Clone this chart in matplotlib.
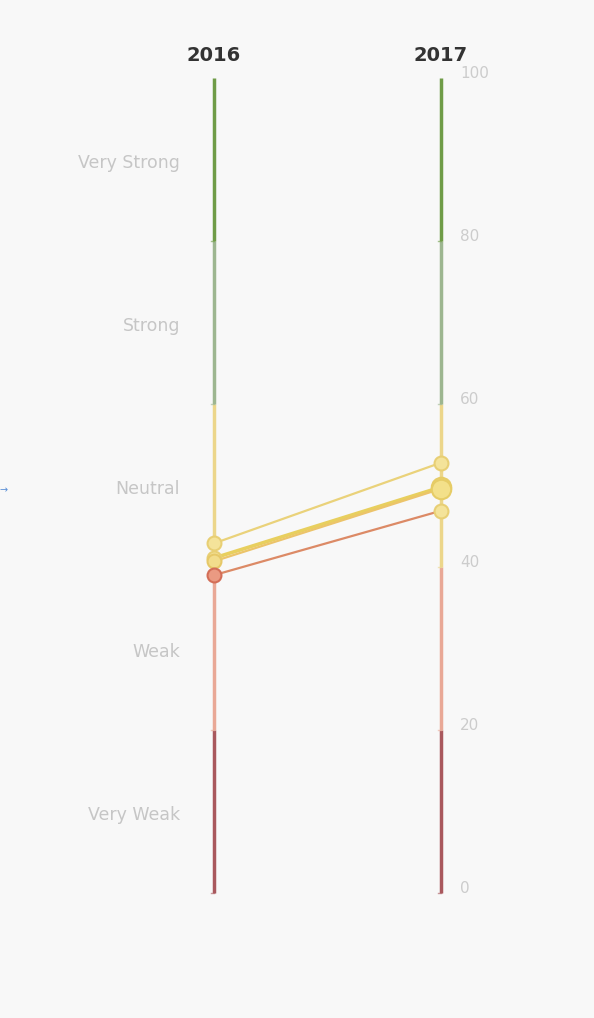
import matplotlib
matplotlib.use('agg')
import matplotlib.pyplot as plt
from matplotlib.lines import Line2D

# -------------------- data --------------------
years = ['2016', '2017']
band_edges = [0, 20, 40, 60, 80, 100]
band_colors = ['#a9585d', '#e9a896', '#ecd68a', '#9db690', '#6f9c47']
band_labels = ['Very Weak', 'Weak', 'Neutral', 'Strong', 'Very Strong']
tick_values = [0, 20, 40, 60, 80, 100]

start_2016 = [42.9, 41.1, 40.7, 39.0]
end_2017 = [52.8, 49.8, 49.6, 46.9]
line_colors = ['#ead27a', '#e8cf5e', '#ecc46a', '#dc8a66']
line_widths = [1.6, 2.6, 1.6, 1.6]
start_face = ['#f4e39a', '#f4e39a', '#f2dd8c', '#ea9a82']
start_edge = ['#e8cf74', '#e8cf74', '#e6c868', '#d36e57']
end_face = ['#f4e39a', '#f3e08a', '#f3e08a', '#f4e39a']
end_edge = ['#e8cf74', '#e6cc66', '#e6cc66', '#e8cf74']
end_size = [10, 14, 14, 10]

W, H = 594, 1018
fig = plt.figure(figsize=(W / 100, H / 100), dpi=100)
fig.patch.set_facecolor('#f8f8f8')

x0, x1 = 214, 441
ybot, ytop = 893, 78
ax = fig.add_axes([x0 / W, (H - ybot) / H, (x1 - x0) / W, (ybot - ytop) / H])
ax.set_xlim(0, 1)
ax.set_ylim(0, 100)
ax.axis('off')
ax.patch.set_alpha(0)

# coloured axis segments
for xi in [0, 1]:
    for i in range(len(band_colors)):
        ax.add_line(Line2D([xi, xi], [band_edges[i], band_edges[i + 1]],
                           color=band_colors[i], lw=2.5, solid_capstyle='butt', clip_on=False))
        ax.add_line(Line2D([xi - 0.012, xi], [band_edges[i], band_edges[i]],
                           color=band_colors[i], lw=1, alpha=0.6, clip_on=False))

# band labels left of 2016
for i, lab in enumerate(band_labels):
    mid = (band_edges[i] + band_edges[i + 1]) / 2
    ax.text(-0.15, mid - 0.4, lab, ha='right', va='center', fontsize=12.5,
            color='#c6c6c6', family='DejaVu Sans', clip_on=False)

# tick labels right of 2017
for v in tick_values:
    ax.text(1.085, v + 0.6, str(v), ha='left', va='center', fontsize=11,
            color='#cccccc', family='DejaVu Sans', clip_on=False)

# year headers
for xi, yr in zip([0, 1], years):
    ax.text(xi, 102.7, yr, ha='center', va='center', fontsize=14,
            fontweight='bold', color='#333333', family='DejaVu Sans', clip_on=False)

# slope lines
for i in range(len(start_2016)):
    ax.plot([0, 1], [start_2016[i], end_2017[i]], color=line_colors[i],
            lw=line_widths[i], zorder=3, clip_on=False)
for i in range(len(start_2016)):
    ax.plot(0, start_2016[i], 'o', ms=10, mfc=start_face[i], mec=start_edge[i],
            mew=1.5, zorder=4, clip_on=False)
    ax.plot(1, end_2017[i], 'o', ms=end_size[i], mfc=end_face[i], mec=end_edge[i],
            mew=1.5, zorder=4, clip_on=False)

# little blue pointer at the left edge
fig.text(0.0, (H - 490) / H, '\u2192', color='#5b8fd6', fontsize=7,
         ha='left', va='center')

fig.savefig('out.png', dpi=100, facecolor=fig.get_facecolor())
